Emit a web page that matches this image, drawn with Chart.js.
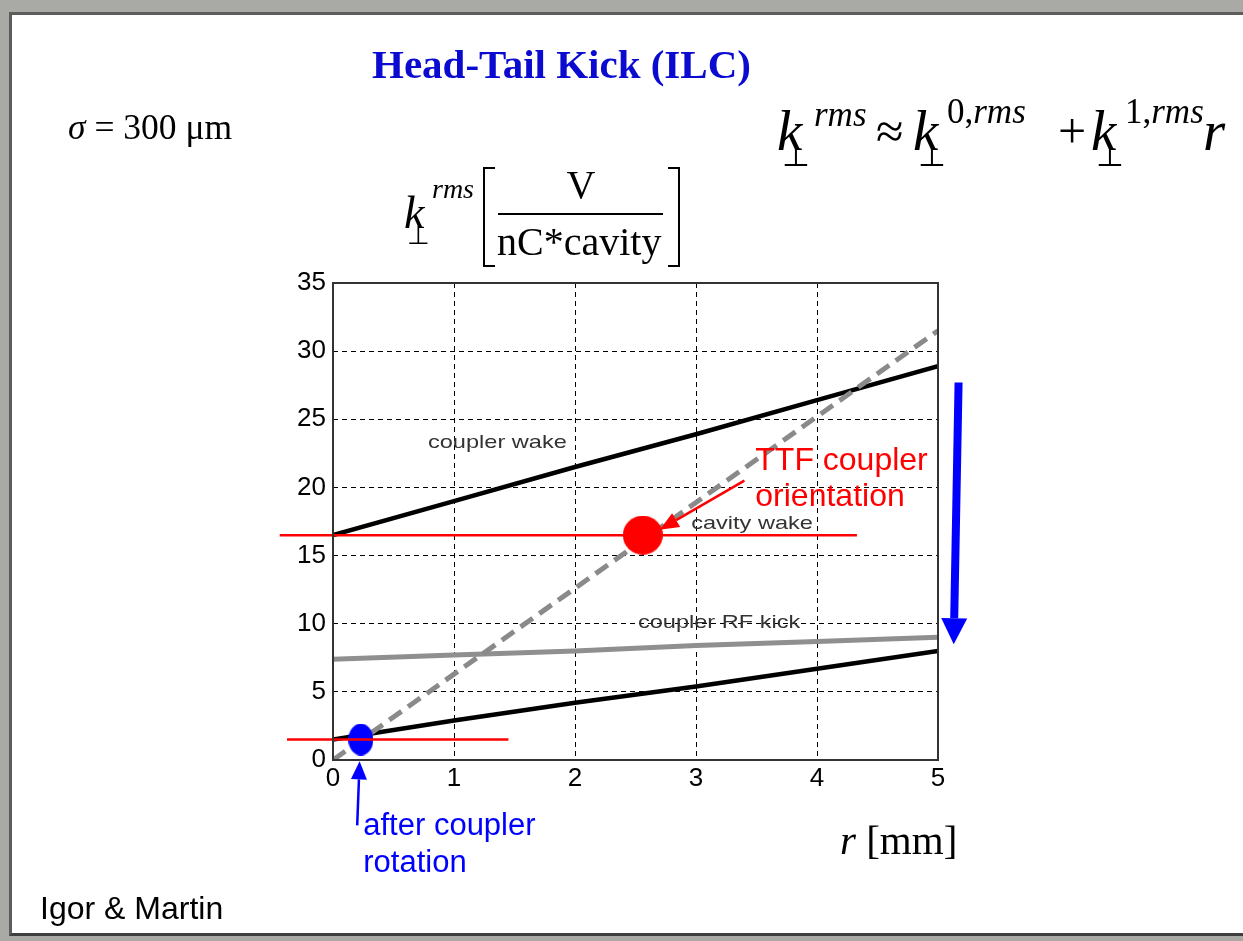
<!DOCTYPE html>
<html>
<head>
<meta charset="utf-8">
<script src="https://cdn.jsdelivr.net/npm/chart.js@4.4.1/dist/chart.umd.min.js"></script>
<style>
  html, body { margin: 0; padding: 0; background: #fff; }
  body { width: 1243px; height: 941px; position: relative; overflow: hidden; }
  .frame { position: absolute; left: 0; top: 0; right: 0; bottom: 0; background: #a9a9a5; }
  .slide { position: absolute; left: 9px; top: 12px; width: 1240px; height: 918px; background: #fff;
           border-top: 3px solid #5c5c5a; border-left: 3px solid #5c5c5a; border-bottom: 3px solid #3e3e3c; }
  #chart { position: absolute; left: 0; top: 0; }
  .t { position: absolute; white-space: nowrap; line-height: 1; color: #000; }
  .serif { font-family: "Liberation Serif", "Times New Roman", serif; }
  .sans { font-family: "Liberation Sans", Arial, sans-serif; }
  .it { font-style: italic; }
</style>
</head>
<body>
<div class="frame"></div>
<div class="slide"></div>
<canvas id="chart" width="1243" height="941"></canvas>

<div class="t serif" style="left:372px; top:44px; font-size:41px; font-weight:bold; color:#0a0ad0;">Head-Tail Kick (ILC)</div>
<div class="t serif" style="left:68px; top:110px; font-size:35.5px;"><i>σ</i> = 300 μm</div>

<!-- k_perp^rms ≈ k_perp^{0,rms} + k_perp^{1,rms} r -->
<div class="t serif it" style="left:777px; top:102px; font-size:57px;">k</div>
<div class="t serif it" style="left:814px; top:97px; font-size:35px;">rms</div>
<div class="t serif" style="left:782px; top:139px; font-size:32px;">⊥</div>
<div class="t serif" style="left:876px; top:106px; font-size:50px;">≈</div>
<div class="t serif it" style="left:913px; top:102px; font-size:57px;">k</div>
<div class="t serif" style="left:947px; top:94px; font-size:35px;">0,<i>rms</i></div>
<div class="t serif" style="left:918px; top:139px; font-size:32px;">⊥</div>
<div class="t serif" style="left:1058px; top:106px; font-size:50px;">+</div>
<div class="t serif it" style="left:1091px; top:102px; font-size:57px;">k</div>
<div class="t serif" style="left:1125px; top:94px; font-size:35px;">1,<i>rms</i></div>
<div class="t serif" style="left:1096px; top:139px; font-size:32px;">⊥</div>
<div class="t serif it" style="left:1203px; top:102px; font-size:57px;">r</div>

<!-- y axis label -->
<div class="t serif it" style="left:404px; top:190px; font-size:46px;">k</div>
<div class="t serif it" style="left:432px; top:175px; font-size:28px;">rms</div>
<div class="t serif" style="left:407px; top:223px; font-size:26px;">⊥</div>
<div style="position:absolute; left:483px; top:167px; width:10px; height:96px; border:2px solid #000; border-right:none;"></div>
<div class="t serif" style="left:498px; top:165px; width:166px; text-align:center; font-size:40px;">V</div>
<div style="position:absolute; left:498px; top:213px; width:165px; border-top:2px solid #000;"></div>
<div class="t serif" style="left:497px; top:222px; font-size:40px;">nC*cavity</div>
<div style="position:absolute; left:668px; top:167px; width:10px; height:96px; border:2px solid #000; border-left:none;"></div>

<div class="t serif" style="left:840px; top:820px; font-size:41px;"><i>r</i> [mm]</div>
<div class="t sans" style="left:40px; top:892px; font-size:32px;">Igor &amp; Martin</div>

<script>
// x axis values (r in mm)
const rValues = [0, 1, 2, 3, 4, 5];
// kick per curve, V/(nC*cavity)
const couplerWake = [16.5, 19.0, 21.5, 23.9, 26.4, 28.9];
const cavityWake = [0, 6.3, 12.6, 18.9, 25.2, 31.5];
const couplerRFKick = [7.4, 7.7, 8.0, 8.4, 8.7, 9.0];
const afterRotation = [1.5, 2.9, 4.2, 5.4, 6.7, 8.0];

const xTicks = [0, 1, 2, 3, 4, 5];
const yTicks = [0, 5, 10, 15, 20, 25, 30, 35];

// red reference levels and their x span
const levelY = [16.5, 1.5];
const levelFrom = [-0.44, -0.38];
const levelTo = [4.33, 1.45];

// highlighted points
const ttfPoint = { x: 2.56, y: 16.5 };
const rotatedPoint = { x: 0.23, y: 1.5 };

// arrows [x1, y1, x2, y2] in data units
const arrows = [
  [3.40, 20.5, 2.70, 16.9],
  [0.20, -4.8, 0.22, -0.1],
  [5.17, 27.7, 5.13, 8.5]
];
const arrowColors = ['#ff0000', '#0000ff', '#0000ff'];
const arrowWidths = [2.5, 2.5, 8];
const arrowHeads = [[19, 8], [18, 8], [26, 13]];

// in-plot text labels
const labelText = ['coupler wake', 'cavity wake', 'coupler RF kick', 'TTF coupler', 'orientation', 'after coupler', 'rotation'];
const labelX = [0.785, 2.96, 2.52, 3.49, 3.49, 0.25, 0.25];
const labelY = [23.3, 17.3, 10.1, 21.9, 19.3, -4.9, -7.6];
const labelFont = ['19px', '19px', '19px', '32px', '32px', '31px', '31px'];
const labelStretch = [1.24, 1.24, 1.24, 1, 1, 1, 1];
const labelColor = ['#333', '#333', '#333', '#ff0000', '#ff0000', '#0000ff', '#0000ff'];

function toPts(xs, ys) {
  return xs.map((x, i) => ({ x: x, y: ys[i] }));
}

function ellipseImg(w, h, color) {
  const c = document.createElement('canvas');
  c.width = w; c.height = h;
  const g = c.getContext('2d');
  g.fillStyle = color;
  g.beginPath();
  g.ellipse(w / 2, h / 2, w / 2, h / 2, 0, 0, Math.PI * 2);
  g.fill();
  return c;
}

const frameAndNotes = {
  id: 'frameAndNotes',
  afterDatasetsDraw(chart) {
    const { ctx, chartArea: a, scales: { x, y } } = chart;
    ctx.save();
    ctx.setLineDash([]);
    ctx.strokeStyle = '#333';
    ctx.lineWidth = 2;
    ctx.strokeRect(a.left, a.top, a.right - a.left, a.bottom - a.top);

    arrows.forEach((ar, i) => {
      const x1 = x.getPixelForValue(ar[0]), y1 = y.getPixelForValue(ar[1]);
      const x2 = x.getPixelForValue(ar[2]), y2 = y.getPixelForValue(ar[3]);
      const ang = Math.atan2(y2 - y1, x2 - x1);
      const [hl, hw] = arrowHeads[i];
      const bx = x2 - hl * Math.cos(ang), by = y2 - hl * Math.sin(ang);
      ctx.strokeStyle = arrowColors[i];
      ctx.fillStyle = arrowColors[i];
      ctx.lineWidth = arrowWidths[i];
      ctx.beginPath();
      ctx.moveTo(x1, y1);
      ctx.lineTo(bx, by);
      ctx.stroke();
      ctx.beginPath();
      ctx.moveTo(x2, y2);
      ctx.lineTo(bx + hw * Math.sin(ang), by - hw * Math.cos(ang));
      ctx.lineTo(bx - hw * Math.sin(ang), by + hw * Math.cos(ang));
      ctx.closePath();
      ctx.fill();
    });

    ctx.textBaseline = 'middle';
    ctx.textAlign = 'left';
    labelText.forEach((t, i) => {
      ctx.save();
      ctx.translate(x.getPixelForValue(labelX[i]), y.getPixelForValue(labelY[i]));
      ctx.scale(labelStretch[i], 1);
      ctx.font = labelFont[i] + ' "Liberation Sans", Arial, sans-serif';
      ctx.fillStyle = labelColor[i];
      ctx.fillText(t, 0, 0);
      ctx.restore();
    });
    ctx.restore();
  }
};

const tickFont = { family: '"Liberation Sans", Arial, sans-serif', size: 26 };

new Chart(document.getElementById('chart'), {
  type: 'line',
  data: {
    datasets: [
      { data: toPts([levelFrom[0], levelTo[0]], [levelY[0], levelY[0]]), borderColor: '#ff0000', borderWidth: 2.5, pointRadius: 0, clip: false },
      { data: toPts([levelFrom[1], levelTo[1]], [levelY[1], levelY[1]]), borderColor: '#ff0000', borderWidth: 2.5, pointRadius: 0, clip: false },
      { data: [ttfPoint], showLine: false, pointStyle: ellipseImg(40, 39, '#ff0000'), clip: false },
      { data: [rotatedPoint], showLine: false, pointStyle: ellipseImg(25, 32, '#0000ff'), clip: false },
      { label: 'cavity wake', data: toPts(rValues, cavityWake), borderColor: '#8a8a8a', borderWidth: 5, borderDash: [15, 8], pointRadius: 0 },
      { label: 'coupler RF kick', data: toPts(rValues, couplerRFKick), borderColor: '#8f8f8f', borderWidth: 5, pointRadius: 0 },
      { label: 'coupler wake', data: toPts(rValues, couplerWake), borderColor: '#000', borderWidth: 4.5, pointRadius: 0 },
      { label: 'after rotation', data: toPts(rValues, afterRotation), borderColor: '#000', borderWidth: 4.5, pointRadius: 0 }
    ]
  },
  options: {
    responsive: false,
    animation: false,
    events: [],
    layout: { padding: { top: 283, right: 305, bottom: 0, left: 0 } },
    plugins: { legend: { display: false }, tooltip: { enabled: false } },
    scales: {
      x: {
        type: 'linear', min: 0, max: 5,
        afterFit: s => { s.height = 181; },
        afterBuildTicks: s => { s.ticks = xTicks.map(v => ({ value: v })); },
        ticks: { font: tickFont, color: '#000', padding: 3, maxRotation: 0, autoSkip: false },
        grid: { color: '#000', lineWidth: 1, drawTicks: false },
        border: { display: false, dash: [5, 4] }
      },
      y: {
        type: 'linear', min: 0, max: 35,
        afterFit: s => { s.width = 333; },
        afterBuildTicks: s => { s.ticks = yTicks.map(v => ({ value: v })); },
        ticks: { font: tickFont, color: '#000', padding: 7, autoSkip: false },
        grid: { color: '#000', lineWidth: 1, drawTicks: false },
        border: { display: false, dash: [5, 4] }
      }
    }
  },
  plugins: [frameAndNotes]
});
</script>
</body>
</html>
